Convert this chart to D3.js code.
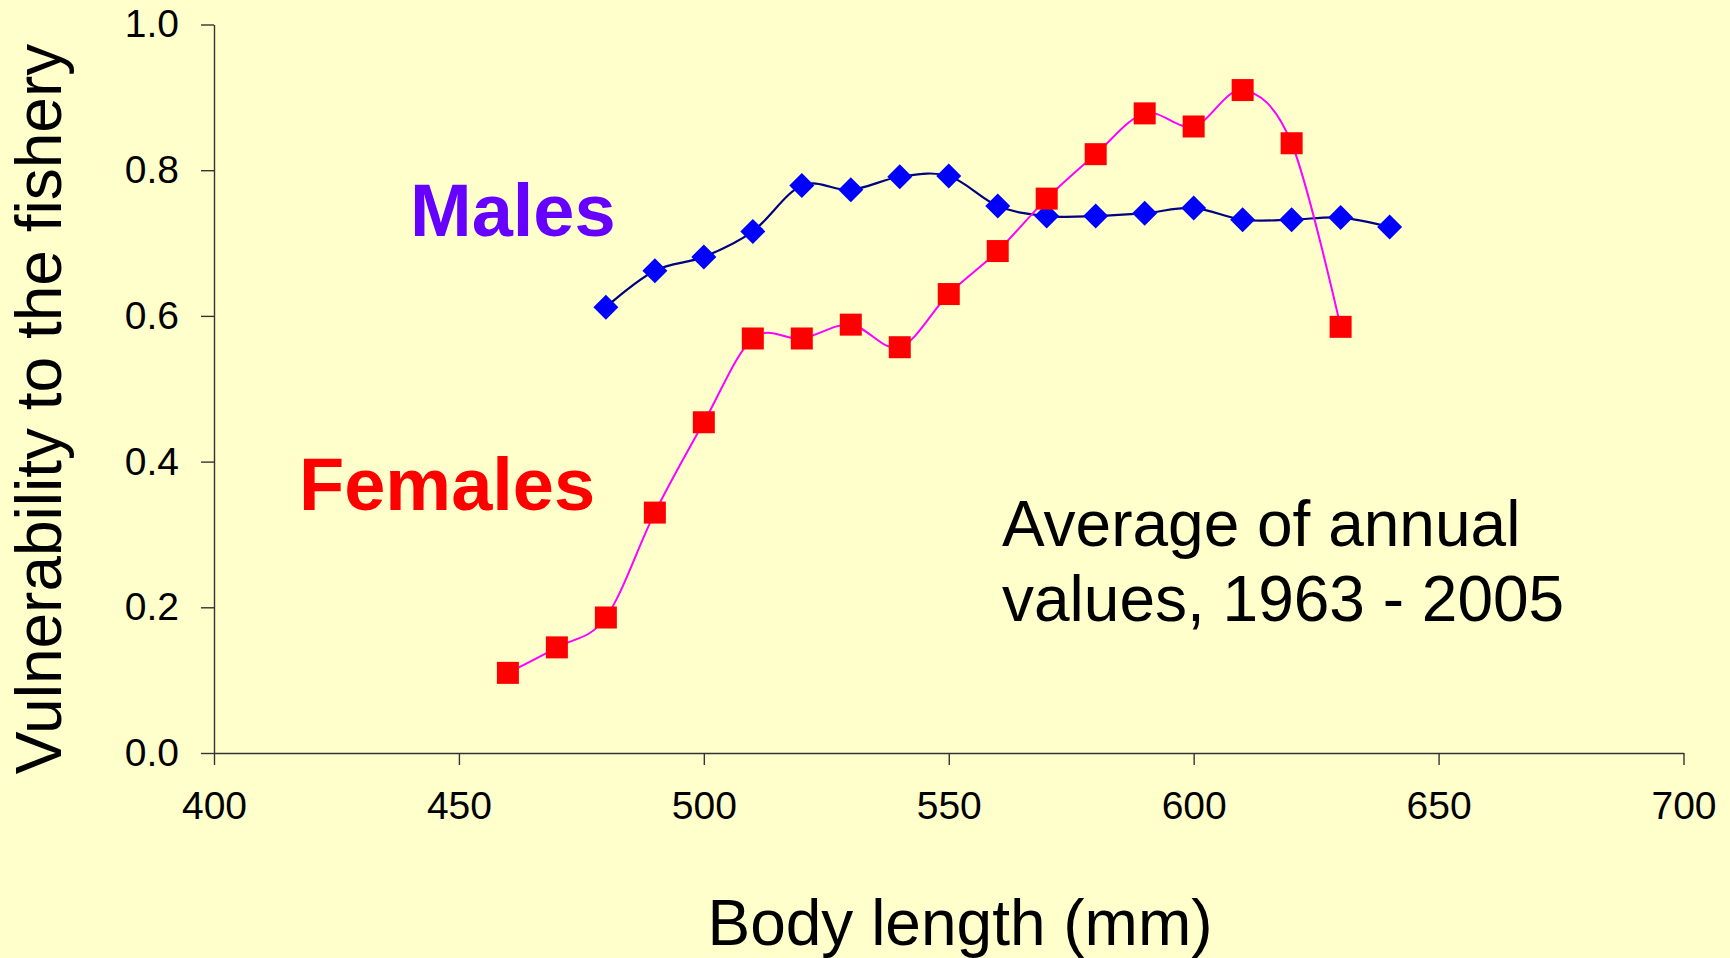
<!DOCTYPE html>
<html>
<head>
<meta charset="utf-8">
<script src="https://cdn.jsdelivr.net/npm/d3@7"></script>
<style>
  html, body { margin: 0; padding: 0; background: #FFFFCC; }
  svg { display: block; }
  text { font-family: "Liberation Sans", Arial, Helvetica, sans-serif; }
</style>
</head>
<body>
<svg id="chart" width="1730" height="958"></svg>
<script>
// Body length classes (mm)
const maleLengths   = [480, 490, 500, 510, 520, 530, 540, 550, 560, 570, 580, 590, 600, 610, 620, 630, 640];
const femaleLengths = [460, 470, 480, 490, 500, 510, 520, 530, 540, 550, 560, 570, 580, 590, 600, 610, 620, 630];

// Mean vulnerability to the fishery per length class
const maleValues   = [0.612, 0.662, 0.681, 0.716, 0.779, 0.773, 0.791, 0.792, 0.751, 0.737, 0.737, 0.741, 0.748, 0.732, 0.732, 0.735, 0.722];
const femaleValues = [0.110, 0.145, 0.186, 0.330, 0.454, 0.569, 0.569, 0.588, 0.557, 0.630, 0.689, 0.761, 0.822, 0.878, 0.860, 0.910, 0.837, 0.585];

// Axis ticks
const xTicks = [400, 450, 500, 550, 600, 650, 700];
const yTicks = [0.0, 0.2, 0.4, 0.6, 0.8, 1.0];

const svg = d3.select("#chart");

const x = d3.scaleLinear().domain([400, 700]).range([214, 1683.5]);
const y = d3.scaleLinear().domain([0, 1]).range([753, 24.5]);

svg.append("rect").attr("width", 1730).attr("height", 958).attr("fill", "#FFFFCC");

// Axes
const xAxis = d3.axisBottom(x).tickValues(xTicks).tickFormat(d3.format("d"))
  .tickSizeInner(12).tickSizeOuter(0).tickPadding(26);
const yAxis = d3.axisLeft(y).tickValues(yTicks).tickFormat(d3.format(".1f"))
  .tickSizeInner(13).tickSizeOuter(0).tickPadding(22);

const gx = svg.append("g").attr("transform", `translate(0,${y(0)})`).call(xAxis);
const gy = svg.append("g").attr("transform", `translate(${x(400)},0)`).call(yAxis);

[gx, gy].forEach(g => {
  g.select(".domain").attr("stroke", "#333").attr("stroke-width", 1.4);
  g.selectAll(".tick line").attr("stroke", "#333").attr("stroke-width", 1.4);
  g.selectAll(".tick text").attr("fill", "#000").style("font-size", "39px")
    .style("font-family", "'Liberation Sans', Arial, sans-serif");
});

// Axis titles
svg.append("text")
  .attr("x", 960).attr("y", 945)
  .attr("text-anchor", "middle")
  .style("font-size", "64px")
  .attr("fill", "#000")
  .text("Body length (mm)");

svg.append("text")
  .attr("transform", "translate(61,409) rotate(-90)")
  .attr("text-anchor", "middle")
  .style("font-size", "64px")
  .attr("fill", "#000")
  .text("Vulnerability to the fishery");

// Smoothed series lines
const line = d3.line()
  .x(d => x(d[0]))
  .y(d => y(d[1]))
  .curve(d3.curveCatmullRom.alpha(0));

const males = maleLengths.map((l, i) => [l, maleValues[i]]);
const females = femaleLengths.map((l, i) => [l, femaleValues[i]]);

svg.append("path").datum(males)
  .attr("d", line).attr("fill", "none")
  .attr("stroke", "#000080").attr("stroke-width", 2.2);

svg.selectAll(".male").data(males).enter().append("path")
  .attr("class", "male")
  .attr("transform", d => `translate(${x(d[0])},${y(d[1])})`)
  .attr("d", "M0,-12.5L12.5,0L0,12.5L-12.5,0Z")
  .attr("fill", "#0000FF");

svg.append("path").datum(females)
  .attr("d", line).attr("fill", "none")
  .attr("stroke", "#FF00FF").attr("stroke-width", 2);

svg.selectAll(".female").data(females).enter().append("rect")
  .attr("class", "female")
  .attr("x", d => x(d[0]) - 11).attr("y", d => y(d[1]) - 11)
  .attr("width", 22).attr("height", 22)
  .attr("fill", "#FF0000");

// Series labels
svg.append("text")
  .attr("x", 410).attr("y", 236)
  .style("font-size", "74px").style("font-weight", "bold")
  .attr("fill", "#6600FF")
  .text("Males");

svg.append("text")
  .attr("x", 299).attr("y", 510)
  .style("font-size", "74px").style("font-weight", "bold")
  .attr("fill", "#FF0000")
  .text("Females");

// Note
const note = svg.append("text")
  .style("font-size", "64px")
  .attr("fill", "#000");
note.append("tspan").attr("x", 1002).attr("y", 546).text("Average of annual");
note.append("tspan").attr("x", 1002).attr("y", 621).text("values, 1963 - 2005");
</script>
</body>
</html>
